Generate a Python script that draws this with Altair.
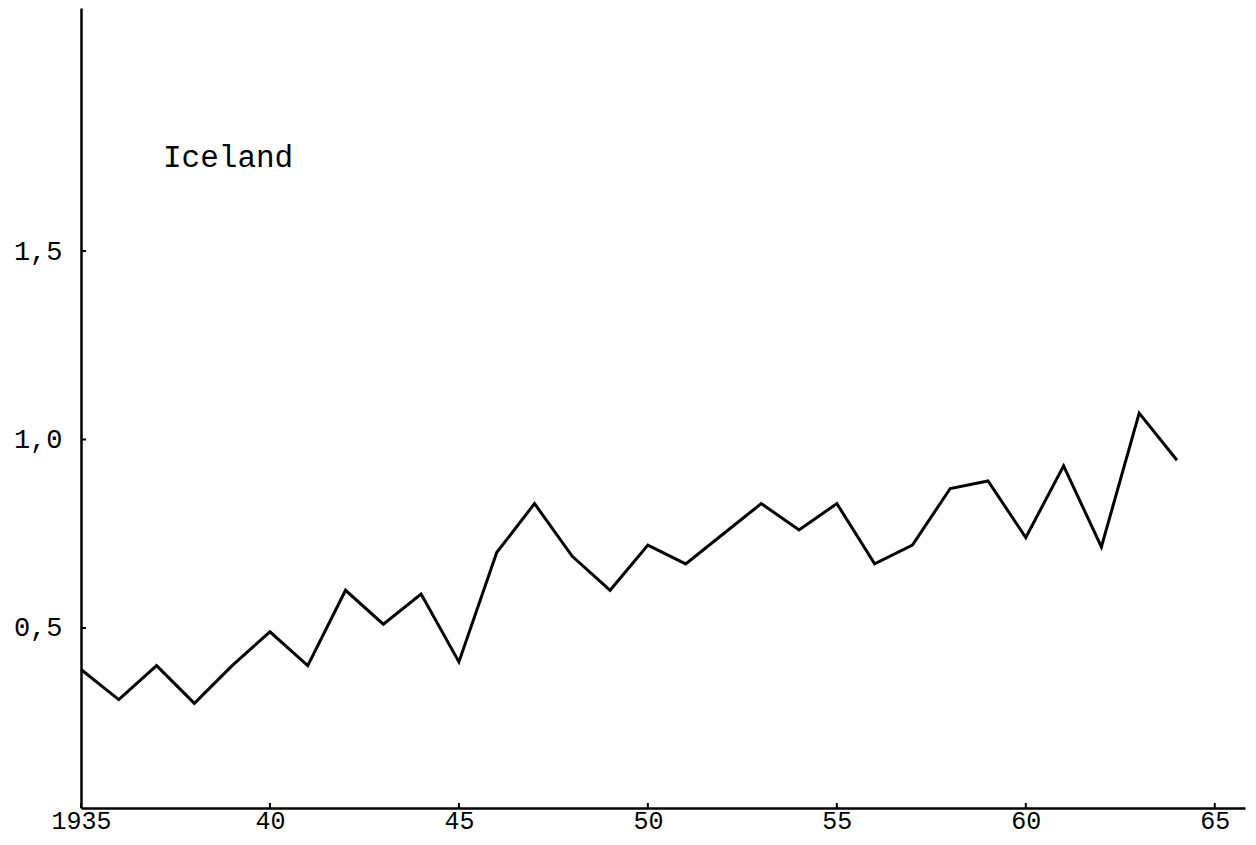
import altair as alt
import pandas as pd

# Data
years = list(range(1935, 1965))
values = [0.39, 0.31, 0.40, 0.30, 0.40, 0.49, 0.40, 0.60, 0.51, 0.59,
          0.41, 0.70, 0.83, 0.69, 0.60, 0.72, 0.67, 0.75, 0.83, 0.76,
          0.83, 0.67, 0.72, 0.87, 0.89, 0.74, 0.93, 0.715, 1.07, 0.945]

x_tick_values = [1935, 1940, 1945, 1950, 1955, 1960, 1965]
x_tick_labels = ["1935", "40", "45", "50", "55", "60", "65"]
y_tick_values = [0.5, 1.0, 1.5]
y_tick_labels = ["0,5", "1,0", "1,5"]
series_label = "Iceland"

FONT = "Liberation Mono"
W, H = 1164, 800

df = pd.DataFrame({"year": years, "value": values})
xt = pd.DataFrame({"year": x_tick_values})
yt = pd.DataFrame({"value": y_tick_values})


def label_expr(vals, labs):
    expr = "''"
    for v, l in reversed(list(zip(vals, labs))):
        expr = f"datum.value == {v} ? '{l}' : ({expr})"
    return expr


x_scale = alt.Scale(domain=[1935, 1965.8], nice=False, zero=False)
y_scale = alt.Scale(domain=[0.0225, 2.1446], nice=False, zero=False)

x_axis = alt.Axis(values=x_tick_values, labelExpr=label_expr(x_tick_values, x_tick_labels),
                  grid=False, ticks=False, labelPadding=0, title=None,
                  domainColor="black", domainWidth=2.5, labelFont=FONT,
                  labelFontSize=25, labelColor="black", labelFlush=False)
y_axis = alt.Axis(values=y_tick_values, labelExpr=label_expr(y_tick_values, y_tick_labels),
                  grid=False, ticks=False, labelPadding=19, title=None,
                  domainColor="black", domainWidth=2.5, labelFont=FONT,
                  labelFontSize=27, labelColor="black", labelBaseline="middle")

line = alt.Chart(df).mark_line(color="black", strokeWidth=3, strokeJoin="miter").encode(
    x=alt.X("year:Q", scale=x_scale, axis=x_axis),
    y=alt.Y("value:Q", scale=y_scale, axis=y_axis),
)

xticks = alt.Chart(xt).mark_rule(color="black", strokeWidth=2).encode(
    x=alt.X("year:Q", scale=x_scale),
    y=alt.value(H),
    y2=alt.value(H - 5),
)

yticks = alt.Chart(yt).mark_rule(color="black", strokeWidth=2).encode(
    y=alt.Y("value:Q", scale=y_scale),
    x=alt.value(0),
    x2=alt.value(5),
)

label = alt.Chart(pd.DataFrame({"t": [series_label]})).mark_text(
    font=FONT, fontSize=31, color="black", align="left", baseline="middle"
).encode(
    x=alt.value(82),
    y=alt.value(150),
    text="t:N",
)

chart = alt.layer(line, xticks, yticks, label).properties(
    width=W, height=H,
    autosize=alt.AutoSizeParams(type="none"),
    padding={"left": 73, "top": 0, "right": 2, "bottom": 29},
).configure(
    background="white",
    view=alt.ViewConfig(stroke="transparent", strokeWidth=0),
)

chart.save("out.html", embed_options={"renderer": "svg", "actions": False})
